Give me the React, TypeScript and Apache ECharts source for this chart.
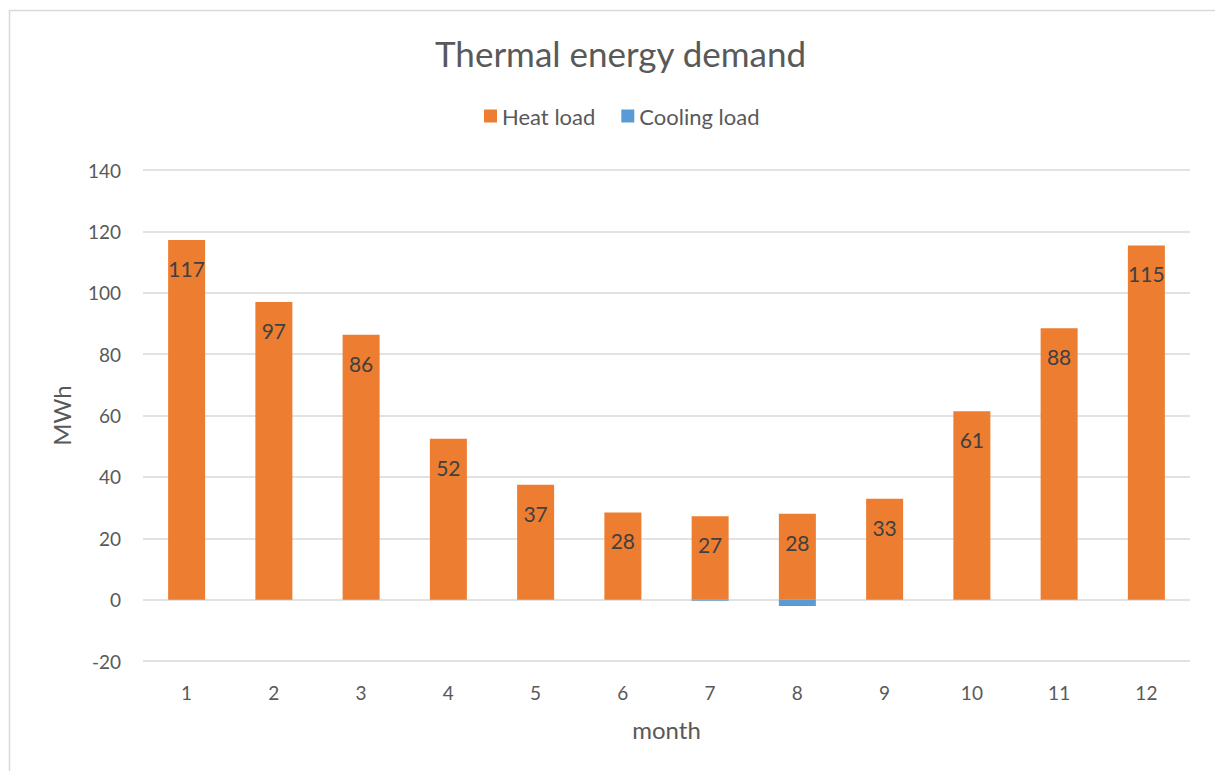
import React, { useEffect, useRef } from "react";
import * as echarts from "echarts";

const months = ["1", "2", "3", "4", "5", "6", "7", "8", "9", "10", "11", "12"];
const heatLoad = [117.2, 97.0, 86.3, 52.4, 37.4, 28.4, 27.2, 28.0, 32.9, 61.4, 88.4, 115.4];
const coolingLoad = [0, 0, 0, 0, 0, 0, -0.4, -2.1, 0, 0, 0, 0];
const yTicks = { min: -20, max: 140, interval: 20 };

const FONT = "Lato, 'Open Sans', sans-serif";
const TEXT = "#595959";

export default function App() {
  const ref = useRef<HTMLDivElement>(null);
  useEffect(() => {
    if (!ref.current) return;
    const chart = echarts.init(ref.current, null, { renderer: "svg" });
    chart.setOption({
      animation: false,
      backgroundColor: "#ffffff",
      textStyle: { fontFamily: FONT, color: TEXT },
      graphic: [
        {
          type: "rect",
          shape: { x: 9.5, y: 10.5, width: 1400, height: 1000 },
          style: { fill: "none", stroke: "#d9d9d9", lineWidth: 1.5 },
          silent: true,
          z: -10,
        },
      ],
      title: {
        text: "Thermal energy demand",
        left: 430,
        top: 30,
        textStyle: { fontFamily: FONT, color: TEXT, fontSize: 35, fontWeight: "normal" },
      },
      legend: {
        top: 100,
        left: 479,
        itemWidth: 13,
        itemHeight: 13,
        itemGap: 26,
        icon: "rect",
        textStyle: { fontFamily: FONT, color: TEXT, fontSize: 22 },
        data: ["Heat load", "Cooling load"],
      },
      grid: { left: 143, right: 25, top: 170, bottom: 110, containLabel: false },
      xAxis: {
        type: "category",
        data: months,
        name: "month",
        nameLocation: "middle",
        nameGap: 56,
        nameTextStyle: { fontFamily: FONT, color: TEXT, fontSize: 24 },
        axisLine: { show: false, onZero: false },
        axisTick: { show: false },
        axisLabel: { color: TEXT, fontSize: 19, margin: 22, fontFamily: FONT },
      },
      yAxis: {
        type: "value",
        min: yTicks.min,
        max: yTicks.max,
        interval: yTicks.interval,
        name: "MWh",
        nameLocation: "middle",
        nameGap: 70,
        nameTextStyle: { fontFamily: FONT, color: TEXT, fontSize: 24 },
        axisLine: { show: false },
        axisTick: { show: false },
        axisLabel: { color: TEXT, fontSize: 19, margin: 22, fontFamily: FONT },
        splitLine: { lineStyle: { color: "#d9d9d9", width: 1.5 } },
      },
      series: [
        {
          name: "Heat load",
          type: "bar",
          stack: "load",
          data: heatLoad,
          barWidth: 37,
          itemStyle: { color: "#ed7d31" },
          label: {
            show: true,
            position: "insideTop",
            distance: 18,
            color: "#404040",
            fontSize: 21,
            fontFamily: FONT,
            formatter: (p: any) => String(Math.round(p.value)),
          },
        },
        {
          name: "Cooling load",
          type: "bar",
          stack: "load",
          data: coolingLoad,
          barWidth: 37,
          itemStyle: { color: "#5b9bd5" },
        },
      ],
    });
    return () => chart.dispose();
  }, []);
  return (
    <div
      ref={ref}
      style={{ position: "absolute", left: 0, top: 0, width: 1215, height: 771 }}
    />
  );
}
